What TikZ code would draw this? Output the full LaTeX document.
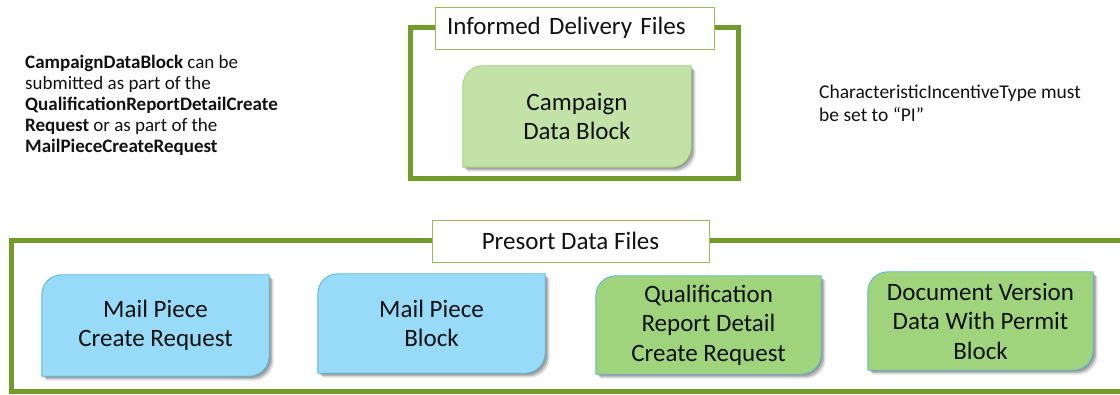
\documentclass[tikz,border=0pt]{standalone}
\usepackage{fontspec}
\setmainfont{Carlito}
\usetikzlibrary{backgrounds}
\definecolor{frameg}{HTML}{729B2B}
\definecolor{labelb}{HTML}{9BBB59}
\definecolor{campf}{HTML}{C3E2A8}
\definecolor{campd}{HTML}{A3CF7C}
\definecolor{bluef}{HTML}{97DBF8}
\definecolor{blued}{HTML}{5BB8D8}
\definecolor{greenf}{HTML}{9FD47C}
\definecolor{textc}{HTML}{111111}
\def\cornerR{20pt}
\newcommand{\diagpath}[1]{([yshift=-\cornerR]#1.north west) arc[start angle=180,end angle=90,radius=\cornerR] -- (#1.north east) -- ([yshift=\cornerR]#1.south east) arc[start angle=0,end angle=-90,radius=\cornerR] -- (#1.south west) -- cycle}
\newcommand{\diagshape}[3]{%
  \fill[black,opacity=0.12,transform canvas={shift={(4.5pt,-4.5pt)}}] \diagpath{#1};
  \fill[black,opacity=0.18,transform canvas={shift={(3pt,-3pt)}}] \diagpath{#1};
  \fill[black,opacity=0.18,transform canvas={shift={(1.5pt,-1.5pt)}}] \diagpath{#1};
  \draw[draw=#3,fill=#2,line width=0.9pt] \diagpath{#1};
}
\tikzset{
  grpframe/.style={draw=frameg, line width=5pt, line join=miter},
  lbl/.style={draw=labelb, fill=white, line width=0.9pt, minimum height=42pt, inner sep=0pt, text=textc, font=\fontsize{25}{29}\selectfont},
  blk/.style={draw=none, inner sep=0pt, align=center, text=textc, font=\fontsize{25}{29.5}\selectfont},
  note/.style={inner sep=0pt, align=left, anchor=north west, text=textc},
}
\begin{document}
\begin{tikzpicture}[x=1pt,y=1pt]
\useasboundingbox (0,0) rectangle (1120,394);
% group frames
\draw[grpframe] (410,215) rectangle (738,366);
\draw[grpframe] (1130,153) -- (11,153) -- (11,3) -- (1130,3);
% labels
\node[lbl, minimum width=279pt, text width=255pt, align=left] (infl) at (574.5,366) {Informed Delivery Files};
\node[lbl, minimum width=277pt] (prel) at (570.5,153) {Presort Data Files};
% blocks
\node[blk, minimum width=228pt, minimum height=101pt] (camp) at (577,277.5) {Campaign\\Data Block};
\node[blk, minimum width=227pt, minimum height=101pt] (mpcr) at (155.5,68.5) {Mail Piece\\Create Request};
\node[blk, minimum width=227pt, minimum height=99pt] (mpb) at (431.5,70.5) {Mail Piece\\Block};
\node[blk, minimum width=225pt, minimum height=98pt] (qual) at (708.5,69) {Qualification\\Report Detail\\Create Request};
\node[blk, minimum width=225pt, minimum height=98pt] (docv) at (980.5,73) {Document Version\\Data With Permit\\Block};
\begin{pgfonlayer}{background}
\diagshape{camp}{campf}{campd}
\diagshape{mpcr}{bluef}{blued}
\diagshape{mpb}{bluef}{blued}
\diagshape{qual}{greenf}{blued}
\diagshape{docv}{greenf}{blued}
\end{pgfonlayer}
% notes
\node[note, font=\fontsize{19}{21}\selectfont] (leftnote) at (25,339) {\textbf{CampaignDataBlock} can be\\submitted as part of the\\\textbf{QualificationReportDetailCreate}\\\textbf{Request} or as part of the\\\textbf{MailPieceCreateRequest}};
\node[note, font=\fontsize{19.5}{22.5}\selectfont] (rightnote) at (819,309) {CharacteristicIncentiveType must\\be set to “PI”};
\end{tikzpicture}
\end{document}
